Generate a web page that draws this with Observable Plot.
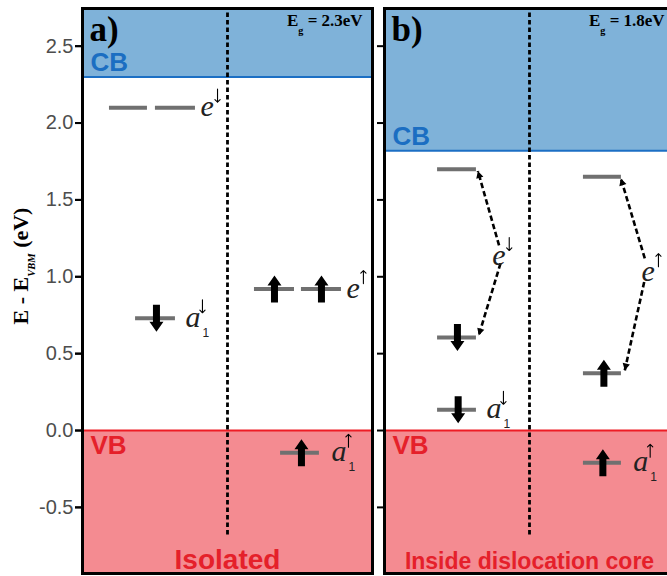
<!DOCTYPE html>
<html>
<head>
<meta charset="utf-8">
<script src="https://cdn.jsdelivr.net/npm/d3@7"></script>
<script src="https://cdn.jsdelivr.net/npm/@observablehq/plot@0.6"></script>
<style>
  html, body { margin: 0; padding: 0; background: white; overflow: hidden; }
  #chart svg { display: block; max-width: none !important; }
</style>
</head>
<body>
<div id="chart"></div>
<script>
// ---------- data ----------
const panels = ["a", "b"];
const panelTags = ["a)", "b)"];
const gapLabels = ["E_{g} = 2.3eV", "E_{g} = 1.8eV"];
const bottomLabels = ["Isolated", "Inside dislocation core"];
const cbEdge = [2.3, 1.82];           // conduction band minimum (eV)
const vbEdge = [0, 0];                // valence band maximum (eV)
const yTicks = [-0.5, 0, 0.5, 1, 1.5, 2, 2.5];
const yMin = -0.93, yMax = 2.745;

// defect levels (horizontal grey bars)
const levelPanel = ["a", "a", "a", "a", "a", "a", "b", "b", "b", "b", "b", "b"];
const levelStart = [0.186, 0.503, 0.366, 1.186, 1.51, 1.366, 0.366, 0.366, 0.366, 1.372, 1.372, 1.372];
const levelEnd   = [0.448, 0.779, 0.641, 1.462, 1.786, 1.634, 0.634, 0.634, 0.634, 1.634, 1.634, 1.634];
const levelEnergy = [2.10, 2.10, 0.73, 0.92, 0.92, -0.145, 1.70, 0.605, 0.135, 1.65, 0.373, -0.21];

// occupied spins (thick black arrows)
const spinPanel = ["a", "a", "a", "a", "b", "b", "b", "b"];
const spinX = [0.51, 1.324, 1.648, 1.51, 0.503, 0.508, 1.513, 1.506];
const spinEnergy = [0.73, 0.92, 0.92, -0.145, 0.605, 0.135, 0.373, -0.21];
const spinDir = ["down", "up", "up", "up", "down", "down", "up", "up"];

// level labels
const labelPanel = ["a", "a", "a", "a", "b", "b", "b", "b"];
const labelX = [0.814, 0.71, 1.82, 1.717, 0.743, 0.703, 1.772, 1.715];
const labelEnergy = [2.10, 0.73, 0.92, -0.145, 1.135, 0.135, 1.03, -0.21];
const labelText = ["e", "a_{1}", "e", "a_{1}", "e", "a_{1}", "e", "a_{1}"];
const labelSpin = ["down", "down", "up", "up", "down", "down", "up", "up"];

// splitting of the e level (dashed arrows)
const splitPanel = ["b", "b", "b", "b"];
const splitX1 = [0.790, 0.800, 1.795, 1.791];
const splitE1 = [1.204, 1.087, 1.12, 0.966];
const splitX2 = [0.644, 0.650, 1.630, 1.657];
const splitE2 = [1.688, 0.618, 1.64, 0.39];

// ---------- tables ----------
const panelData = panels.map((p, i) => ({panel: p, tag: panelTags[i], gap: gapLabels[i], bottom: bottomLabels[i], cb: cbEdge[i], vb: vbEdge[i]}));
const levels = levelPanel.map((p, i) => ({panel: p, x1: levelStart[i], x2: levelEnd[i], y: levelEnergy[i]}));
const spins = spinPanel.map((p, i) => ({panel: p, x: spinX[i], y: spinEnergy[i], dir: spinDir[i]}));
const labels = labelPanel.map((p, i) => ({panel: p, x: labelX[i], y: labelEnergy[i], text: labelText[i], spin: labelSpin[i]}));
const splits = splitPanel.map((p, i) => ({panel: p, x1: splitX1[i], y1: splitE1[i], x2: splitX2[i], y2: splitE2[i]}));

// ---------- styles ----------
const CB_FILL = "#7fb2d9", CB_LINE = "#1c6fc4", CB_TEXT = "#1b6ec2";
const VB_FILL = "#f48b91", VB_LINE = "#ee1c25", VB_TEXT = "#e5202a";
const LEVEL = "#707070";
const SERIF = "Liberation Serif, DejaVu Serif, serif";
const SANS = "Liberation Sans, Arial, sans-serif";

function spinSymbol(sign) { // sign -1 = up, +1 = down
  return {draw(ctx) {
    const L = 13.5, H = 10, hw = 7, sw = 3.5, s = sign;
    ctx.moveTo(0, s * L);
    ctx.lineTo(hw, s * (L - H));
    ctx.lineTo(sw, s * (L - H));
    ctx.lineTo(sw, -s * L);
    ctx.lineTo(-sw, -s * L);
    ctx.lineTo(-sw, s * (L - H));
    ctx.lineTo(-hw, s * (L - H));
    ctx.closePath();
  }};
}

const chart = Plot.plot({
  width: 674,
  height: 576,
  marginLeft: 82,
  marginRight: 0,
  marginTop: 8,
  marginBottom: 3,
  style: {fontFamily: SANS, background: "white", maxWidth: "none"},
  fx: {domain: panels, axis: null, paddingInner: 0.04, paddingOuter: 0},
  x: {domain: [0, 2], axis: null},
  y: {domain: [yMin, yMax], label: null},
  marks: [
    Plot.rect(panelData, {fx: "panel", x1: 0, x2: 2, y1: "cb", y2: yMax, fill: CB_FILL}),
    Plot.rect(panelData, {fx: "panel", x1: 0, x2: 2, y1: yMin, y2: "vb", fill: VB_FILL}),
    Plot.ruleY(panelData, {fx: "panel", y: "cb", stroke: CB_LINE, strokeWidth: 2}),
    Plot.ruleY(panelData, {fx: "panel", y: "vb", stroke: VB_LINE, strokeWidth: 2}),
    Plot.ruleX(panelData, {fx: "panel", x: () => 1, y1: -0.68, y2: yMax, stroke: "black", strokeWidth: 2.8, strokeDasharray: "4.5,3"}),
    Plot.ruleY(levels, {fx: "panel", y: "y", x1: "x1", x2: "x2", stroke: LEVEL, strokeWidth: 4}),
    Plot.dot(spins.filter(d => d.dir === "up"), {fx: "panel", x: "x", y: "y", r: 10, symbol: spinSymbol(-1), fill: "black", stroke: "none"}),
    Plot.dot(spins.filter(d => d.dir === "down"), {fx: "panel", x: "x", y: "y", r: 10, symbol: spinSymbol(1), fill: "black", stroke: "none"}),
    Plot.link(splits, {fx: "panel", x1: "x1", y1: "y1", x2: "x2", y2: "y2", stroke: "black", strokeWidth: 2.6, strokeDasharray: "5.5,3"}),
    Plot.arrow(splits, {fx: "panel", x1: "x1", y1: "y1", x2: "x2", y2: "y2",
      stroke: "none", fill: "black", headLength: 12, headAngle: 55}),
    Plot.text(labels, {fx: "panel", x: "x", y: "y", text: "text", textAnchor: "start", dy: -1,
      fontFamily: SERIF, fontStyle: "italic", fontSize: 30, fill: "#222"}),
    Plot.vector(labels, {fx: "panel", x: "x", y: "y", length: 13, rotate: d => d.spin === "up" ? 0 : 180,
      anchor: "middle", dx: 17, dy: -12, stroke: "black", strokeWidth: 1.1}),
    Plot.text(panelData, {fx: "panel", y: "cb", text: () => "CB", frameAnchor: "left", textAnchor: "start", lineAnchor: "bottom",
      dx: 8, dy: -6, fill: CB_TEXT, fontWeight: "bold", fontSize: 26, fontFamily: SANS}),
    Plot.text(panelData, {fx: "panel", y: "vb", text: () => "VB", frameAnchor: "left", textAnchor: "start", lineAnchor: "top",
      dx: 8, dy: 5, fill: VB_TEXT, fontWeight: "bold", fontSize: 26, fontFamily: SANS}),
    Plot.text(panelData, {fx: "panel", text: "tag", frameAnchor: "top-left", textAnchor: "start", lineAnchor: "top",
      dx: 7, dy: 8, fontFamily: SERIF, fontWeight: "bold", fontSize: 35, fill: "black"}),
    Plot.text(panelData, {fx: "panel", text: "gap", x: () => 1.41, frameAnchor: "top", textAnchor: "start", lineAnchor: "top",
      dy: 5, fontFamily: SERIF, fontWeight: "bold", fontSize: 17, fill: "black"}),
    Plot.text(panelData, {fx: "panel", text: "bottom", frameAnchor: "bottom", lineAnchor: "bottom", dy: -5,
      fill: VB_TEXT, fontWeight: "bold", fontSize: d => d.panel === "a" ? 28 : 23, fontFamily: SANS}),
    Plot.frame({stroke: "black", strokeWidth: 3}),
    Plot.axisY({ticks: yTicks, tickFormat: d => d.toFixed(1), tickSize: 7, tickPadding: 2, fontSize: 20,
      stroke: "black", fill: "#4d4d4d", strokeWidth: 2, label: null}),
    Plot.axisY({ticks: yTicks, tickFormat: () => "", tickSize: 7, stroke: "black", strokeWidth: 2, label: null, facetAnchor: null}),
    Plot.text(panelData.filter(d => d.panel === "a"), {fx: "panel", y: () => 1.07, text: () => "E - E_{VBM} (eV)",
      frameAnchor: "left", dx: -55, rotate: -90, textAnchor: "middle", lineAnchor: "bottom",
      fontFamily: SERIF, fontWeight: "bold", fontSize: 22, fill: "black"})
  ]
});

document.getElementById("chart").appendChild(chart);

// subscripts in the texts: _{...}
const subStyle = {
  "1":   {size: 0.4,  dy: 0.33, dx: 2, family: SANS, style: "normal"},
  "VBM": {size: 0.48, dy: 0.36, dx: 0, family: null, style: "italic"},
  "g":   {size: 0.6,  dy: 0.5,  dx: 0, family: null, style: null}
};
d3.select(chart).selectAll("text").each(function() {
  const t = this.textContent;
  if (!t.includes("_{")) return;
  const fs = parseFloat(getComputedStyle(this).fontSize) || 16;
  const parts = t.split(/(_\{[^}]*\})/).filter(s => s.length);
  this.textContent = "";
  let shifted = 0;
  for (const p of parts) {
    const ts = document.createElementNS("http://www.w3.org/2000/svg", "tspan");
    if (p.startsWith("_{")) {
      const s = p.slice(2, -1);
      const st = subStyle[s] || {size: 0.6, dy: 0.3, dx: 0};
      const dy = st.dy * fs;
      ts.setAttribute("font-size", st.size * fs);
      ts.setAttribute("dy", dy);
      if (st.dx) ts.setAttribute("dx", st.dx);
      if (st.family) ts.setAttribute("font-family", st.family);
      if (st.style) ts.setAttribute("font-style", st.style);
      ts.textContent = s;
      shifted = dy;
    } else {
      if (shifted) { ts.setAttribute("dy", -shifted); shifted = 0; }
      ts.textContent = p;
    }
    this.appendChild(ts);
  }
});
</script>
</body>
</html>
